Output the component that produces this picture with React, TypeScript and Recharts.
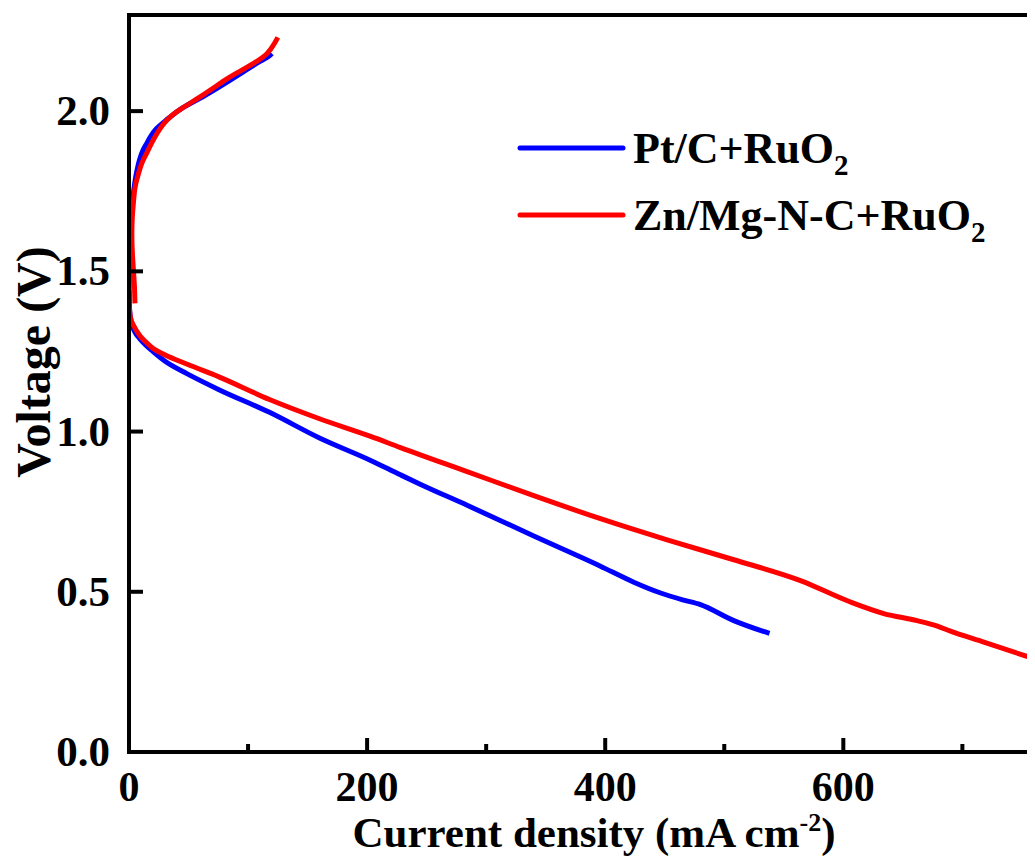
import { LineChart, Line, XAxis, YAxis, ReferenceLine, Legend, Label } from 'recharts';

// Pt/C + RuO2, discharge branch
const ptDisI = [0, 0.5, 2, 5, 9, 14, 20, 30, 49, 76, 118, 160, 203, 228, 245, 284, 340, 396, 424, 446, 465, 480, 508, 538];
const ptDisV = [1.44, 1.38, 1.34, 1.31, 1.29, 1.27, 1.25, 1.22, 1.18, 1.13, 1.06, 0.98, 0.91, 0.865, 0.835, 0.77, 0.674, 0.58, 0.53, 0.497, 0.475, 0.46, 0.41, 0.37];

// Pt/C + RuO2, charge branch
const ptChgI = [0, 0.3, 1, 2, 3, 5, 7, 9, 12, 15, 18, 23, 29, 34, 45, 62, 80, 95, 110, 117, 120];
const ptChgV = [1.4, 1.5, 1.6, 1.66, 1.72, 1.78, 1.82, 1.85, 1.88, 1.9, 1.92, 1.945, 1.965, 1.98, 2.01, 2.045, 2.085, 2.12, 2.155, 2.17, 2.18];

// Zn/Mg-N-C + RuO2, discharge branch
const znDisI = [0.3, 1, 4, 9, 14, 20, 30, 49, 76, 118, 160, 203, 228, 284, 340, 396, 452, 508, 564, 606, 634, 662, 679, 690, 718, 761];
const znDisV = [1.39, 1.36, 1.33, 1.3, 1.28, 1.26, 1.24, 1.21, 1.17, 1.1, 1.04, 0.985, 0.95, 0.875, 0.8, 0.728, 0.662, 0.6, 0.535, 0.468, 0.432, 0.41, 0.393, 0.377, 0.343, 0.29];

// Zn/Mg-N-C + RuO2, charge branch
const znChgI = [5, 4.6, 3.8, 2.8, 2.4, 2.8, 3.4, 5, 7.6, 10.5, 15, 19, 23.5, 28, 34, 45, 62, 80, 91, 105, 116, 122, 125];
const znChgV = [1.4, 1.45, 1.5, 1.56, 1.62, 1.67, 1.7, 1.76, 1.8, 1.835, 1.87, 1.9, 1.93, 1.955, 1.98, 2.01, 2.05, 2.095, 2.12, 2.15, 2.18, 2.21, 2.23];

const xTicks = [0, 100, 200, 300, 400, 500, 600, 700];
const yTicks = [0, 0.5, 1.0, 1.5, 2.0];

const legendItems = [
  { name: 'Pt/C+RuO', sub: '2', color: '#0000FF' },
  { name: 'Zn/Mg-N-C+RuO', sub: '2', color: '#FF0000' },
];

const zip = (xs: number[], ys: number[]) => xs.map((i, k) => ({ i, v: ys[k] }));

const ptDischarge = zip(ptDisI, ptDisV);
const ptCharge = zip(ptChgI, ptChgV);
const znDischarge = zip(znDisI, znDisV);
const znCharge = zip(znChgI, znChgV);

const FONT = '"Liberation Serif", "Times New Roman", Times, serif';

const XTick = (props: any) => {
  const { x, y, payload } = props;
  const major = payload.value % 200 === 0;
  return (
    <g>
      <line x1={x} x2={x} y1={y} y2={y - (major ? 14 : 8)} stroke="#000" strokeWidth={4} />
      {major && (
        <text x={x} y={y + 49} textAnchor="middle" fontFamily={FONT} fontWeight="bold" fontSize={42} fill="#000">
          {payload.value}
        </text>
      )}
    </g>
  );
};

const YTick = (props: any) => {
  const { x, y, payload } = props;
  return (
    <g>
      <line x1={x} x2={x + 14} y1={y} y2={y} stroke="#000" strokeWidth={4} />
      <text x={x - 19} y={y + 14} textAnchor="end" fontFamily={FONT} fontWeight="bold" fontSize={43} fill="#000">
        {payload.value.toFixed(1)}
      </text>
    </g>
  );
};

const XTitle = (props: any) => {
  const { x, y } = props.viewBox;
  return (
    <text x={x + 465} y={y + 95} textAnchor="middle" fontFamily={FONT} fontWeight="bold" fontSize={43} fill="#000">
      Current density (mA cm
      <tspan fontSize={26} dy={-16}>-2</tspan>
      <tspan dy={16}>)</tspan>
    </text>
  );
};

const YTitle = () => (
  <text x={42} y={354} transform="rotate(-90, 42, 354)" textAnchor="middle" fontFamily={FONT} fontWeight="bold" fontSize={48} fill="#000">
    Voltage (V)
  </text>
);

const renderLegend = () => (
  <svg width={520} height={150} style={{ display: 'block' }}>
    {legendItems.map((it, k) => {
      const ly = 40 + k * 67;
      return (
        <g key={it.name}>
          <line x1={12} x2={115} y1={ly} y2={ly} stroke={it.color} strokeWidth={5} strokeLinecap="round" />
          <text x={125} y={ly + 15} fontFamily={FONT} fontWeight="bold" fontSize={44} fill="#000">
            {it.name}
            <tspan fontSize={29} dy={12}>{it.sub}</tspan>
          </text>
        </g>
      );
    })}
  </svg>
);

export default function App() {
  return (
    <div style={{ width: 1027, height: 849 }}>
      <style>{`html, body { overflow: hidden; } .recharts-surface { overflow: visible; }`}</style>
      <LineChart width={1027} height={849} margin={{ top: 7, right: 0, bottom: 45, left: 0 }}>
        <XAxis
          type="number"
          dataKey="i"
          domain={[0, 761]}
          allowDataOverflow
          ticks={xTicks}
          interval={0}
          height={60}
          tickSize={0}
          tickMargin={0}
          tickLine={false}
          axisLine={{ stroke: '#000', strokeWidth: 4, strokeLinecap: 'square' }}
          tick={<XTick />}
        >
          <Label content={<XTitle />} />
        </XAxis>
        <YAxis
          type="number"
          dataKey="v"
          domain={[0, 2.3]}
          allowDataOverflow
          ticks={yTicks}
          interval={0}
          width={121}
          tickSize={0}
          tickMargin={0}
          tickLine={false}
          axisLine={{ stroke: '#000', strokeWidth: 4, strokeLinecap: 'square' }}
          tick={<YTick />}
        >
          <Label content={<YTitle />} />
        </YAxis>
        <ReferenceLine y={2.3} stroke="#000" strokeWidth={4} />
        <Legend
          content={renderLegend}
          layout="vertical"
          align="center"
          verticalAlign="middle"
          wrapperStyle={{ top: 100, left: 500, width: 520 }}
        />
        <Line data={ptDischarge} dataKey="v" type="monotone" stroke="#0000FF" strokeWidth={5} dot={false} isAnimationActive={false} />
        <Line data={ptCharge} dataKey="v" type="natural" stroke="#0000FF" strokeWidth={5} dot={false} isAnimationActive={false} />
        <Line data={znDischarge} dataKey="v" type="monotone" stroke="#FF0000" strokeWidth={5} dot={false} isAnimationActive={false} />
        <Line data={znCharge} dataKey="v" type="natural" stroke="#FF0000" strokeWidth={5} dot={false} isAnimationActive={false} />
      </LineChart>
    </div>
  );
}
